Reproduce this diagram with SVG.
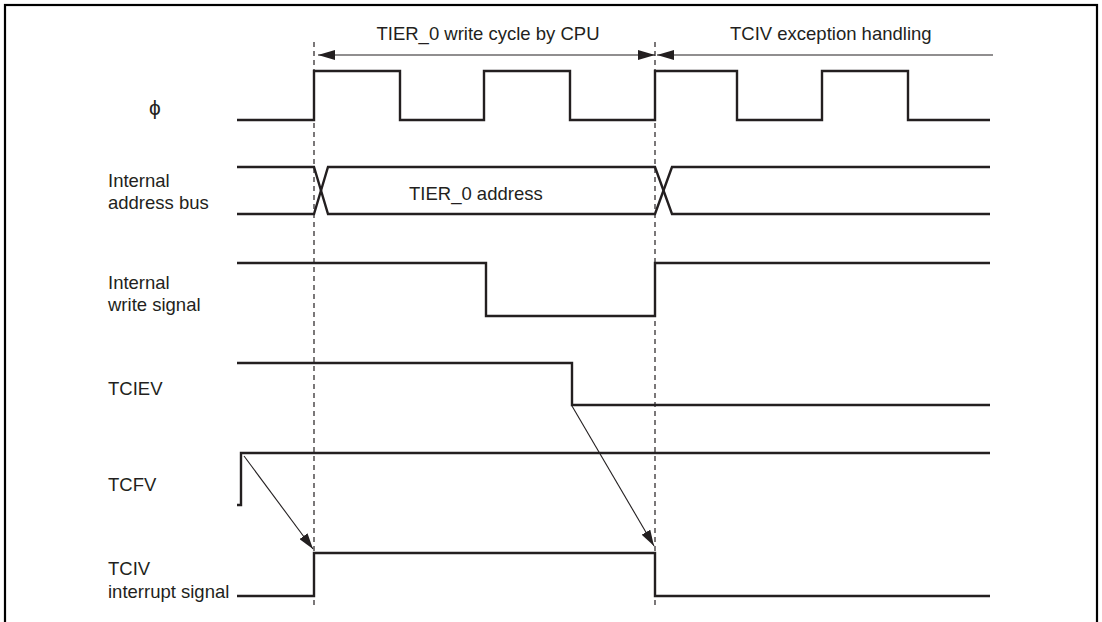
<svg xmlns="http://www.w3.org/2000/svg" width="1102" height="622" viewBox="0 0 1102 622">
<style>
text{font-family:"Liberation Sans",Arial,sans-serif;font-size:18.5px;fill:#231f20}
.sig{fill:none;stroke:#231f20;stroke-width:2.4;stroke-linejoin:miter}
.thin{fill:none;stroke:#231f20;stroke-width:1.1}
.dash{fill:none;stroke:#231f20;stroke-width:1.2;stroke-dasharray:5,4}
</style>
<defs>
<marker id="dim" markerUnits="userSpaceOnUse" markerWidth="17" markerHeight="10" refX="17" refY="5" orient="auto-start-reverse">
<path d="M0,0 L17,5 L0,10 z" fill="#231f20"/>
</marker>
<marker id="arr" markerUnits="userSpaceOnUse" markerWidth="16" markerHeight="10" refX="16" refY="5" orient="auto">
<path d="M0,0 L16,5 L0,10 z" fill="#231f20"/>
</marker>
</defs>
<rect x="5" y="5" width="1092" height="630" fill="#fff" stroke="#000" stroke-width="2.2"/>

<g id="guides">
<line class="dash" x1="314" y1="42" x2="314" y2="608"/>
<line class="dash" x1="655" y1="42" x2="655" y2="608"/>
</g>

<g id="phase-labels">
<text x="488" y="40" text-anchor="middle">TIER_0 write cycle by CPU</text>
<text x="730" y="40">TCIV exception handling</text>
<line class="thin" x1="318" y1="55" x2="655" y2="55" marker-start="url(#dim)" marker-end="url(#dim)"/>
<line class="thin" x1="657" y1="55" x2="993" y2="55" marker-start="url(#dim)"/>
</g>

<g id="phi">
<text x="155" y="115" text-anchor="middle" style="font-size:21px">ϕ</text>
<path class="sig" d="M237,120 H314 V71 H400 V120 H484 V71 H570 V120 H655 V71 H737 V120 H822 V71 H908 V120 H990"/>
</g>

<g id="address-bus">
<text x="108" y="187">Internal</text>
<text x="108" y="209">address bus</text>
<path class="sig" d="M237,167 H314 L328,214 H655 L672,167 H990"/>
<path class="sig" d="M237,214 H314 L328,167 H655 L672,214 H990"/>
<text x="409" y="200">TIER_0 address</text>
</g>

<g id="write-signal">
<text x="108" y="289">Internal</text>
<text x="108" y="311">write signal</text>
<path class="sig" d="M237,263 H486 V316 H655 V263 H990"/>
</g>

<g id="tciev">
<text x="108" y="395">TCIEV</text>
<path class="sig" d="M237,363 H572 V405 H990"/>
</g>

<g id="tcfv">
<text x="108" y="491">TCFV</text>
<path class="sig" d="M237,505 H241 V453 H990"/>
</g>

<g id="tciv">
<text x="108" y="575">TCIV</text>
<text x="108" y="598">interrupt signal</text>
<path class="sig" d="M237,596 H314 V553 H655 V596 H990"/>
</g>

<g id="connectors">
<line class="thin" x1="244" y1="456" x2="313" y2="549" marker-end="url(#arr)"/>
<line class="thin" x1="572" y1="406" x2="654" y2="546" marker-end="url(#arr)"/>
</g>
</svg>
